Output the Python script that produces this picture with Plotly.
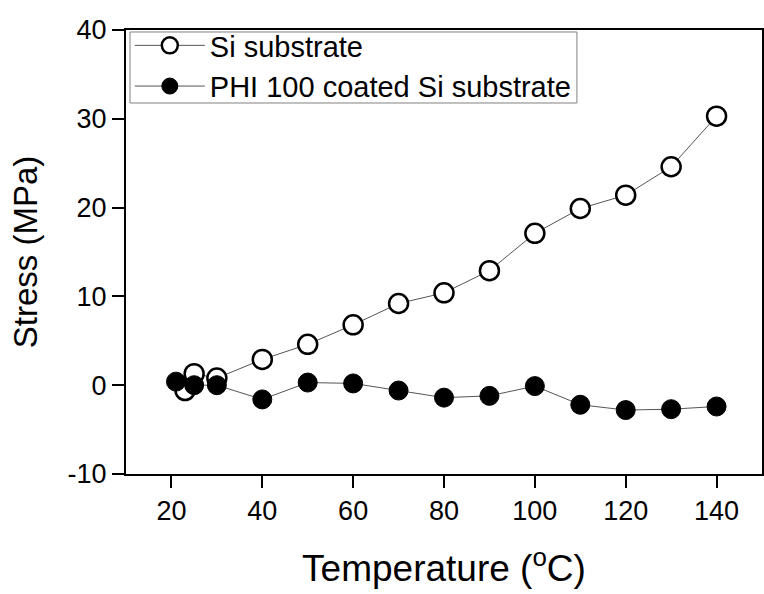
import plotly.graph_objects as go

# Si substrate (open circles)
temp_si = [23, 25, 30, 40, 50, 60, 70, 80, 90, 100, 110, 120, 130, 140]
stress_si = [-0.6, 1.3, 0.8, 2.9, 4.6, 6.8, 9.2, 10.4, 12.9, 17.1, 19.9, 21.4, 24.6, 30.3]

# PHI 100 coated Si substrate (filled circles)
temp_phi = [21, 25, 30, 40, 50, 60, 70, 80, 90, 100, 110, 120, 130, 140]
stress_phi = [0.4, 0.0, 0.0, -1.6, 0.3, 0.2, -0.6, -1.4, -1.2, -0.1, -2.2, -2.8, -2.7, -2.4]

x_ticks = [20, 40, 60, 80, 100, 120, 140]
y_ticks = [-10, 0, 10, 20, 30, 40]
y_labels = ["-10", "0", "10", "20", "30", "40"]

fig = go.Figure()

fig.add_trace(go.Scatter(x=temp_si, y=stress_si, mode="lines+markers",
                         name="Si substrate",
                         line=dict(color="#555555", width=1),
                         marker=dict(symbol="circle", size=19, color="white",
                                     line=dict(color="black", width=2.5))))

fig.add_trace(go.Scatter(x=temp_phi, y=stress_phi, mode="lines+markers",
                         name="PHI 100 coated Si substrate",
                         line=dict(color="#555555", width=1),
                         marker=dict(symbol="circle", size=19, color="black",
                                     line=dict(color="black", width=1))))

axis_style = dict(showline=True, linecolor="black", linewidth=2, mirror=True,
                  ticks="outside", ticklen=12, tickwidth=2, tickcolor="black",
                  showgrid=False, zeroline=False, automargin=False,
                  tickfont=dict(size=27, color="black"))

fig.update_xaxes(range=[10, 150], tickvals=x_ticks,
                 title=dict(text="Temperature (<sup>o</sup>C)", font=dict(size=37, color="black"),
                            standoff=30),
                 **axis_style)
fig.update_yaxes(range=[-10, 40], tickvals=y_ticks, ticktext=y_labels,
                 title=dict(text="Stress (MPa)", font=dict(size=33, color="black"),
                            standoff=20),
                 **axis_style)

# legend frame drawn as a box so it can sit tight round the two entries
fig.add_shape(type="rect", xref="paper", yref="paper",
              x0=0.0063, x1=0.709, y0=0.8356, y1=0.9955,
              line=dict(color="#808080", width=1), fillcolor="white", layer="below")

fig.update_layout(width=764, height=594,
                  margin=dict(l=126, r=2, t=30, b=120),
                  plot_bgcolor="white", paper_bgcolor="white",
                  font=dict(family="Arial, Liberation Sans, sans-serif", color="black"),
                  legend=dict(x=0.006, y=1.0225, xanchor="left", yanchor="top",
                              bgcolor="rgba(0,0,0,0)", borderwidth=0,
                              font=dict(size=29, color="black"),
                              itemwidth=70, tracegroupgap=0),
                  showlegend=True)

# page body has a default 8px margin; drop it so the figure sits at the window corner
fig.write_html("out.html", config={"displayModeBar": False},
               post_script="document.body.style.margin='0';")
